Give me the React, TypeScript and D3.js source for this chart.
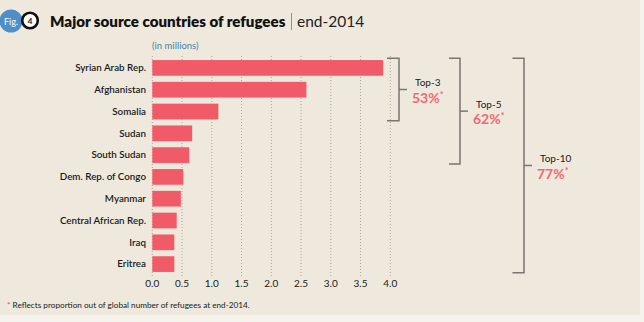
import React from "react";
import * as d3 from "d3";

const countries = [
  "Syrian Arab Rep.",
  "Afghanistan",
  "Somalia",
  "Sudan",
  "South Sudan",
  "Dem. Rep. of Congo",
  "Myanmar",
  "Central African Rep.",
  "Iraq",
  "Eritrea",
];
const refugees = [3.88, 2.59, 1.11, 0.67, 0.62, 0.52, 0.48, 0.41, 0.37, 0.37];
const xTicks = [0, 0.5, 1.0, 1.5, 2.0, 2.5, 3.0, 3.5, 4.0];
const groupLabels = ["Top-3", "Top-5", "Top-10"];
const groupCounts = [3, 5, 10];
const groupShares = ["53%", "62%", "77%"];

const W = 644;
const H = 322;
const BG = "#eee9dc";
const BAR = "#f15b67";
const FONT = "Lato, 'Open Sans', sans-serif";

export default function App() {
  const x = d3.scaleLinear().domain([0, 4]).range([152.3, 390.3]);
  const y = d3
    .scaleBand<string>()
    .domain(countries)
    .range([57, 275])
    .paddingInner(0.28)
    .paddingOuter(0.14);

  const bracketX = [399, 460, 524];
  const tipLen = [12, 11, 11.5];
  const bracketTop = 58.3;
  const bracketBottoms = [120.7, 164, 272.7];

  return (
    <svg
      width={W}
      height={H}
      style={{ position: "absolute", left: 0, top: 0, display: "block" }}
    >
      <rect x={0} y={0} width={W} height={H} fill="#f6f3ec" />
      <rect x={0} y={0} width={640} height={315} fill={BG} />

      {/* Fig badge */}
      <circle cx={11} cy={21} r={11.5} fill="#4f8fc9" />
      <text x={11} y={24.5} fontSize={9} textAnchor="middle" fill="#fff" fontFamily={FONT}>
        Fig.
      </text>
      <circle cx={30} cy={20.5} r={7.8} fill="#fff" stroke="#111" strokeWidth={2.6} />
      <text x={30} y={23.5} fontSize={8} textAnchor="middle" fill="#111" fontWeight={700} fontFamily={FONT}>
        4
      </text>

      {/* Title */}
      <text x={50} y={27} fontSize={15.1} fontWeight={800} fill="#111" fontFamily={FONT}>
        Major source countries of refugees
      </text>
      <line x1={291.5} x2={291.5} y1={13} y2={30} stroke="#6a9bc8" strokeWidth={1} />
      <text x={297} y={27} fontSize={15.5} fill="#222" fontFamily={FONT}>
        end-2014
      </text>

      <text x={152} y={49} fontSize={9.5} fill="#4f7fa8" fontFamily={FONT}>
        (in millions)
      </text>

      {/* grid */}
      {xTicks.map((t) => (
        <line
          key={t}
          x1={x(t)}
          x2={x(t)}
          y1={56}
          y2={276}
          stroke="#a9a49a"
          strokeWidth={1}
          strokeDasharray="1,2"
        />
      ))}

      {/* bars */}
      {countries.map((c, i) => (
        <g key={c}>
          <rect
            x={x(0)}
            y={y(c)}
            width={x(refugees[i]) - x(0)}
            height={y.bandwidth()}
            fill={BAR}
          />
          <text
            x={146}
            y={(y(c) as number) + y.bandwidth() / 2 + 3.3}
            fontSize={9.8}
            fontWeight={600}
            textAnchor="end"
            fill="#1a1a1a"
            fontFamily={FONT}
          >
            {c}
          </text>
        </g>
      ))}

      {/* x tick labels */}
      {xTicks.map((t) => (
        <text
          key={t}
          x={x(t)}
          y={287}
          fontSize={10}
          textAnchor="middle"
          fill="#1a1a1a"
          fontFamily={FONT}
        >
          {d3.format(".1f")(t)}
        </text>
      ))}

      {/* brackets */}
      {groupCounts.map((n, i) => {
        const bx = bracketX[i];
        const yb = bracketBottoms[i];
        const ym = (bracketTop + yb) / 2;
        return (
          <g key={n}>
            <path
              d={`M${bx - tipLen[i]},${bracketTop}H${bx}V${yb}H${bx - tipLen[i]}`}
              fill="none"
              stroke="#7a7670"
              strokeWidth={1.5}
            />
            <line x1={bx} x2={bx + 8} y1={ym} y2={ym} stroke="#7a7670" strokeWidth={1.5} />
            <text x={bx + 16} y={ym - 3.5} fontSize={10} fill="#1a1a1a" fontFamily={FONT}>
              {groupLabels[i]}
            </text>
            <text x={bx + 13} y={ym + 13} fontSize={14} fontWeight={700} fill="#f06a74" fontFamily={FONT}>
              {groupShares[i]}
              <tspan fontSize={9} dy={-5}>
                *
              </tspan>
            </text>
          </g>
        );
      })}

      {/* footnote */}
      <text x={7} y={308} fontSize={8.2} fill="#1a1a1a" fontFamily={FONT}>
        <tspan fill="#e0505c">*</tspan> Reflects proportion out of global number of refugees at end-2014.
      </text>
    </svg>
  );
}
